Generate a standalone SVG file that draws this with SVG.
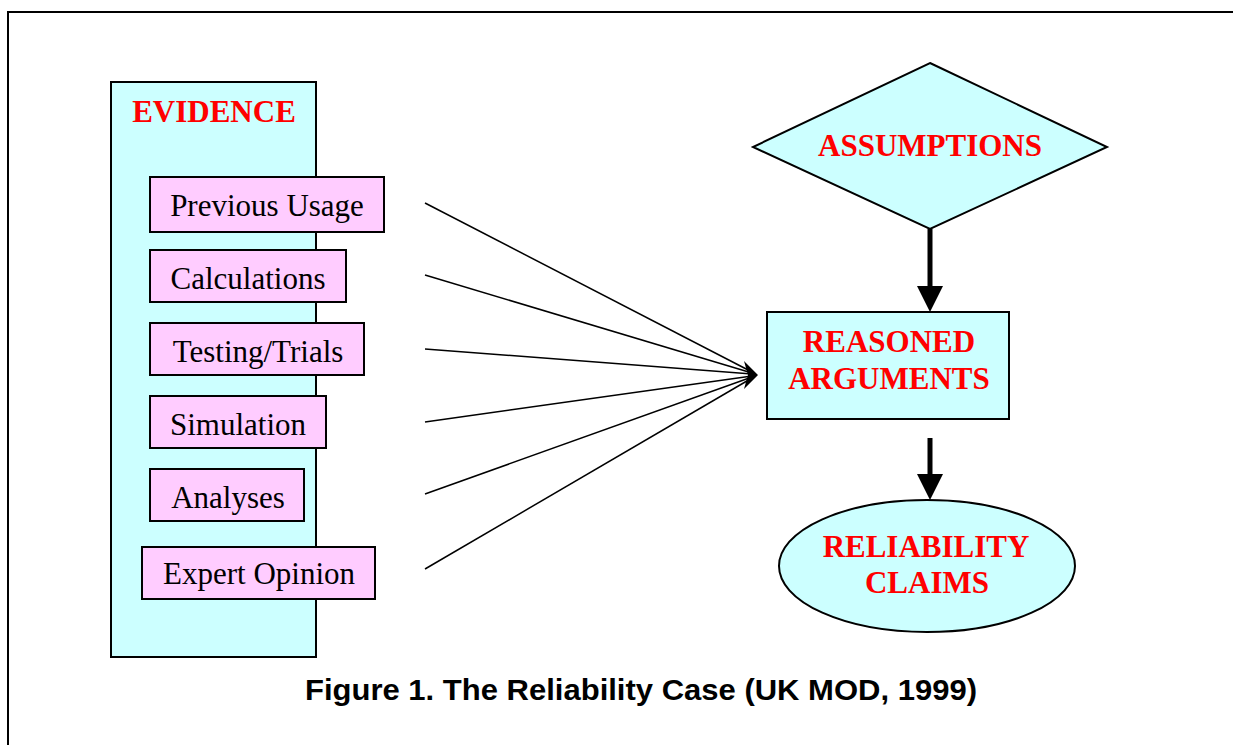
<svg xmlns="http://www.w3.org/2000/svg" width="1233" height="745" viewBox="0 0 1233 745">
<style>
.frame{fill:none;stroke:#000;stroke-width:2}
.cyan{fill:#ccffff;stroke:#000;stroke-width:2}
.pink{fill:#ffccff;stroke:#000;stroke-width:2}
.lbl{font-family:"Liberation Serif","Times New Roman",serif;font-size:31px;fill:#000;text-anchor:middle}
.red{font-family:"Liberation Serif","Times New Roman",serif;font-size:31px;font-weight:bold;fill:#ff0000;text-anchor:middle}
.cap{font-family:"Liberation Sans",Arial,sans-serif;font-size:29px;font-weight:bold;fill:#000;text-anchor:middle}
.thin{stroke:#000;stroke-width:1.5;fill:none}
.thick{stroke:#000;stroke-width:5;fill:none}
.head{fill:#000}
</style>
<rect width="1233" height="745" fill="#fff"/>
<path class="frame" d="M8,745 V12 H1233"/>
<g id="evidence">
<rect class="cyan" x="111" y="82" width="205" height="575"/>
<text class="red" x="214" y="122">EVIDENCE</text>
</g>
<g id="previous-usage">
<rect class="pink" x="150" y="177" width="234" height="55"/>
<text class="lbl" x="267" y="216">Previous Usage</text>
</g>
<g id="calculations">
<rect class="pink" x="150" y="250" width="196" height="52"/>
<text class="lbl" x="248" y="289">Calculations</text>
</g>
<g id="testing-trials">
<rect class="pink" x="150" y="323" width="214" height="52"/>
<text class="lbl" x="258" y="362">Testing/Trials</text>
</g>
<g id="simulation">
<rect class="pink" x="150" y="396" width="176" height="52"/>
<text class="lbl" x="238" y="435">Simulation</text>
</g>
<g id="analyses">
<rect class="pink" x="150" y="469" width="154" height="52"/>
<text class="lbl" x="228" y="508">Analyses</text>
</g>
<g id="expert-opinion">
<rect class="pink" x="142" y="547" width="233" height="52"/>
<text class="lbl" x="259" y="584">Expert Opinion</text>
</g>
<g id="assumptions">
<polygon class="cyan" points="930,63 1107,147 930,229 753,147"/>
<text class="red" x="930" y="156">ASSUMPTIONS</text>
</g>
<g id="reasoned-arguments">
<rect class="cyan" x="767" y="312" width="242" height="107"/>
<text class="red" x="889" y="352">REASONED</text>
<text class="red" x="889" y="389">ARGUMENTS</text>
</g>
<g id="reliability-claims">
<ellipse class="cyan" cx="927" cy="566" rx="148" ry="66"/>
<text class="red" x="926" y="557">RELIABILITY</text>
<text class="red" x="927" y="593">CLAIMS</text>
</g>
<g id="connectors">
<line class="thin" x1="425" y1="203" x2="752" y2="372"/>
<line class="thin" x1="425" y1="275" x2="752" y2="373"/>
<line class="thin" x1="425" y1="349" x2="752" y2="374"/>
<line class="thin" x1="425" y1="422" x2="752" y2="376"/>
<line class="thin" x1="425" y1="494" x2="752" y2="377"/>
<line class="thin" x1="425" y1="569" x2="752" y2="378"/>
<polygon class="head" points="758,375 744,361 748,375 744,389"/>
<line class="thick" x1="930" y1="229" x2="930" y2="290"/>
<polygon class="head" points="917,286 943,286 930,312"/>
<line class="thick" x1="930" y1="438" x2="930" y2="478"/>
<polygon class="head" points="917,474 943,474 930,500"/>
</g>
<text class="cap" x="641" y="700" textLength="672" lengthAdjust="spacingAndGlyphs">Figure 1. The Reliability Case (UK MOD, 1999)</text>
</svg>
